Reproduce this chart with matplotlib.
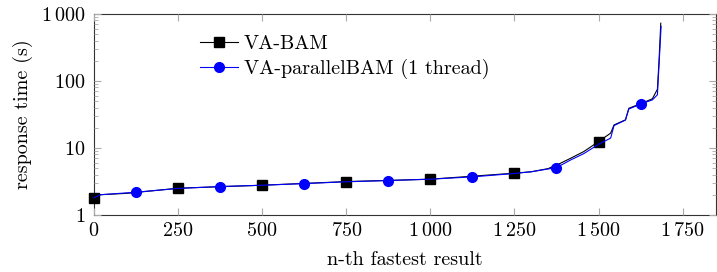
import matplotlib.pyplot as plt
import numpy as np
from matplotlib.ticker import FixedLocator, FixedFormatter, LogLocator, NullFormatter

plt.rcParams['font.family'] = ['cmr10', 'DejaVu Serif']
plt.rcParams['mathtext.fontset'] = 'cm'
plt.rcParams['axes.formatter.use_mathtext'] = True

# VA-BAM (black, square marks every 250)
bam_x = [0, 20, 100, 250, 500, 750, 1000, 1250, 1300, 1350, 1387, 1417, 1456,
         1500, 1536, 1546, 1580, 1590, 1622, 1660, 1675, 1680, 1685]
bam_y = [1.79, 2.0, 2.1, 2.5, 2.77, 3.14, 3.41, 4.19, 4.4, 4.9, 5.9, 7.0, 8.8,
         12.4, 16.6, 22.0, 26.2, 39.0, 45.0, 54.0, 75.0, 210.0, 726.0]
bam_marks = [0, 250, 500, 750, 1000, 1250, 1500]

# VA-parallelBAM (1 thread) (blue, circle marks offset by 125)
par_x = [0, 20, 125, 250, 375, 500, 625, 750, 875, 1000, 1125, 1250, 1300,
         1375, 1417, 1456, 1500, 1536, 1546, 1580, 1590, 1625, 1660, 1675,
         1680, 1686]
par_y = [1.8, 2.0, 2.18, 2.48, 2.65, 2.77, 2.93, 3.12, 3.25, 3.41, 3.69, 4.15,
         4.4, 5.08, 6.6, 8.2, 11.3, 14.0, 21.5, 26.0, 38.0, 45.0, 52.0, 62.0,
         180.0, 650.0]
par_marks = [125, 375, 625, 875, 1125, 1375, 1625]

x_ticks = [0, 250, 500, 750, 1000, 1250, 1500, 1750]
x_labels = [r'$0$', r'$250$', r'$500$', r'$750$', r'$1\,000$', r'$1\,250$',
            r'$1\,500$', r'$1\,750$']
y_ticks = [1, 10, 100, 1000]
y_labels = [r'$1$', r'$10$', r'$100$', r'$1\,000$']

fs = 14.5

fig = plt.figure(figsize=(7.17, 2.72), dpi=100)
ax = fig.add_axes([0.131, 0.21, 0.868, 0.739])

ax.plot(bam_x, bam_y, color='black', lw=0.8, marker='s', ms=7, clip_on=False,
        markevery=[bam_x.index(m) for m in bam_marks], label='VA-BAM')
ax.plot(par_x, par_y, color='#0000ff', lw=0.8, marker='o', ms=7, clip_on=False,
        markevery=[par_x.index(m) for m in par_marks],
        label='VA-parallelBAM (1 thread)')

ax.set_yscale('log')
ax.set_xlim(0, 1850)
ax.set_ylim(1, 1000)

ax.xaxis.set_major_locator(FixedLocator(x_ticks))
ax.xaxis.set_major_formatter(FixedFormatter(x_labels))
ax.yaxis.set_major_locator(FixedLocator(y_ticks))
ax.yaxis.set_major_formatter(FixedFormatter(y_labels))
ax.yaxis.set_minor_locator(LogLocator(base=10, subs=np.arange(2, 10)))
ax.yaxis.set_minor_formatter(NullFormatter())

ax.tick_params(which='both', direction='in', top=True, right=True,
               color='#aaaaaa', labelsize=fs)
ax.tick_params(axis='x', pad=5)
ax.tick_params(axis='y', pad=6)
ax.tick_params(which='major', length=5, width=0.8)
ax.tick_params(which='minor', length=3, width=0.6)
for s in ax.spines.values():
    s.set_color('#333333')
    s.set_linewidth(0.8)
    s.set_zorder(1)

ax.set_xlabel('n-th fastest result', fontsize=fs, labelpad=8)
ax.set_ylabel('response time (s)', fontsize=fs, labelpad=6)

ax.legend(loc='upper left', bbox_to_anchor=(0.158, 0.935), frameon=False,
          fontsize=fs, handlelength=1.85, handletextpad=0.3, labelspacing=0.3,
          borderaxespad=0)

fig.savefig('out.png', dpi=100)
